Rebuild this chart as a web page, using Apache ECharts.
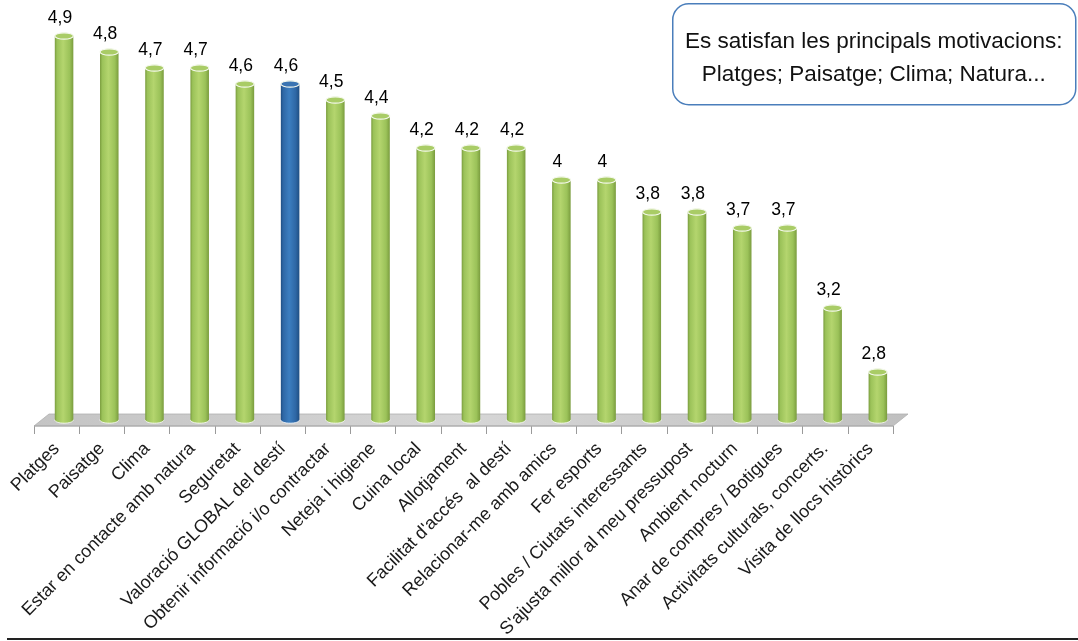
<!DOCTYPE html>
<html>
<head>
<meta charset="utf-8">
<script src="https://cdn.jsdelivr.net/npm/echarts@6/dist/echarts.min.js"></script>
<style>
html,body{margin:0;padding:0;background:#fff;}
#c{width:1078px;height:641px;}
</style>
</head>
<body>
<div id="c"></div>
<script>
const categories = [
  "Platges","Paisatge","Clima","Estar en contacte amb natura","Seguretat",
  "Valoració GLOBAL del destí","Obtenir informació i/o contractar","Neteja i higiene",
  "Cuina local","Allotjament","Facilitat d'accés  al destí","Relacionar-me amb amics",
  "Fer esports","Pobles / Ciutats interessants","S'ajusta millor al meu pressupost",
  "Ambient nocturn","Anar de compres / Botigues","Activitats culturals, concerts.",
  "Visita de llocs històrics"
];
const values = [4.9,4.8,4.7,4.7,4.6,4.6,4.5,4.4,4.2,4.2,4.2,4.0,4.0,3.8,3.8,3.7,3.7,3.2,2.8];
const highlightIndex = 5;
const titleLines = ["Es satisfan les principals motivacions:", "Platges; Paisatge; Clima; Natura..."];
const Y_MIN = 2.5, Y_MAX = 5.0;

const FONT = '"Liberation Sans", Arial, sans-serif';
const fmt = v => String(v).replace('.', ',');

const green = {edge:'#7A9C3E', mid:'#B4D56E', main:'#9BC259', top:'#A9CC66'};
const blue  = {edge:'#1F4E82', mid:'#3C7EC0', main:'#2E67A5', top:'#3A74B2'};

function renderCyl(params, api) {
  const idx = api.value(0), v = api.value(1);
  const top = api.coord([idx, v]);
  const base = api.coord([idx, Y_MIN]);
  const band = api.size([1, 0])[0];
  const w = band * 0.41;
  const dx = band * 0.165;
  const cx = top[0] + dx;
  const ry = 3.2;
  const c = idx === highlightIndex ? blue : green;
  const grad = {type:'linear', x:0, y:0, x2:1, y2:0, colorStops:[
    {offset:0, color:c.edge},{offset:0.12, color:c.main},{offset:0.45, color:c.mid},
    {offset:0.8, color:c.main},{offset:1, color:c.edge}]};
  return {
    type:'group',
    children:[
      {type:'ellipse', shape:{cx:cx, cy:base[1], rx:w/2, ry:ry}, style:{fill:grad, stroke:'rgba(255,255,255,0.8)', lineWidth:1}},
      {type:'rect', shape:{x:cx - w/2, y:top[1], width:w, height:base[1]-top[1]}, style:{fill:grad}},
      {type:'ellipse', shape:{cx:cx, cy:top[1], rx:w/2, ry:ry}, style:{fill:c.top, stroke:'#F4F8EC', lineWidth:1.2}},
      {type:'text', x:top[0] + dx*0.45, y:top[1] - ry - 6,
        style:{text:fmt(v), textAlign:'center', textVerticalAlign:'bottom', font:'17.5px ' + FONT, fill:'#000'}}
    ]
  };
}

function renderFloor(params, api) {
  const cs = params.coordSys;
  const by = cs.y + cs.height;
  const x0 = cs.x, x1 = cs.x + cs.width;
  const d = 15, h = 6;
  return {
    type:'group',
    children:[
      {type:'polygon', shape:{points:[[x0, by+h],[x1, by+h],[x1+d, by-h],[x0+d, by-h]]},
        style:{fill:{type:'linear', x:0, y:0, x2:1, y2:0, colorStops:[
          {offset:0, color:'#C4C4C4'},{offset:0.5, color:'#D6D6D6'},{offset:1, color:'#C0C0C0'}]},
          stroke:'#B0B0B0', lineWidth:0.8}},
      {type:'line', shape:{x1:x0, y1:by+h, x2:x1, y2:by+h}, style:{stroke:'#A8A8A8', lineWidth:1.2}}
    ]
  };
}

const chart = echarts.init(document.getElementById('c'), null, {renderer:'canvas'});
chart.setOption({
  animation:false,
  backgroundColor:'#fff',
  grid:{left:34, right:185, top:20, bottom:221, containLabel:false},
  xAxis:{
    type:'category', data:categories, offset:6,
    axisLine:{show:false},
    axisTick:{show:true, length:8, lineStyle:{color:'#9A9A9A', width:1}},
    axisLabel:{rotate:45, margin:20, fontSize:18, fontFamily:FONT, color:'#1a1a1a', interval:0}
  },
  yAxis:{type:'value', min:Y_MIN, max:Y_MAX, show:false, splitLine:{show:false}},
  series:[
    {type:'custom', renderItem:renderFloor, data:[[0]], z:1, silent:true},
    {type:'custom', renderItem:renderCyl, data:values.map((v,i)=>[i,v]), z:2,
      encode:{x:0, y:1}}
  ],
  graphic:[
    {type:'group', left:672, top:3, children:[
      {type:'rect', shape:{x:0, y:0, width:403, height:101, r:16},
        style:{fill:'#fff', stroke:'#4A7EBB', lineWidth:1.5}},
      {type:'text', x:201, y:38, style:{text:titleLines[0], textAlign:'center', textVerticalAlign:'middle', font:'22.5px ' + FONT, fill:'#111'}},
      {type:'text', x:201, y:71, style:{text:titleLines[1], textAlign:'center', textVerticalAlign:'middle', font:'22.5px ' + FONT, fill:'#111'}}
    ]},
    {type:'rect', left:7, top:638, shape:{x:0, y:0, width:1071, height:2}, style:{fill:'#222'}}
  ]
});
</script>
</body>
</html>
